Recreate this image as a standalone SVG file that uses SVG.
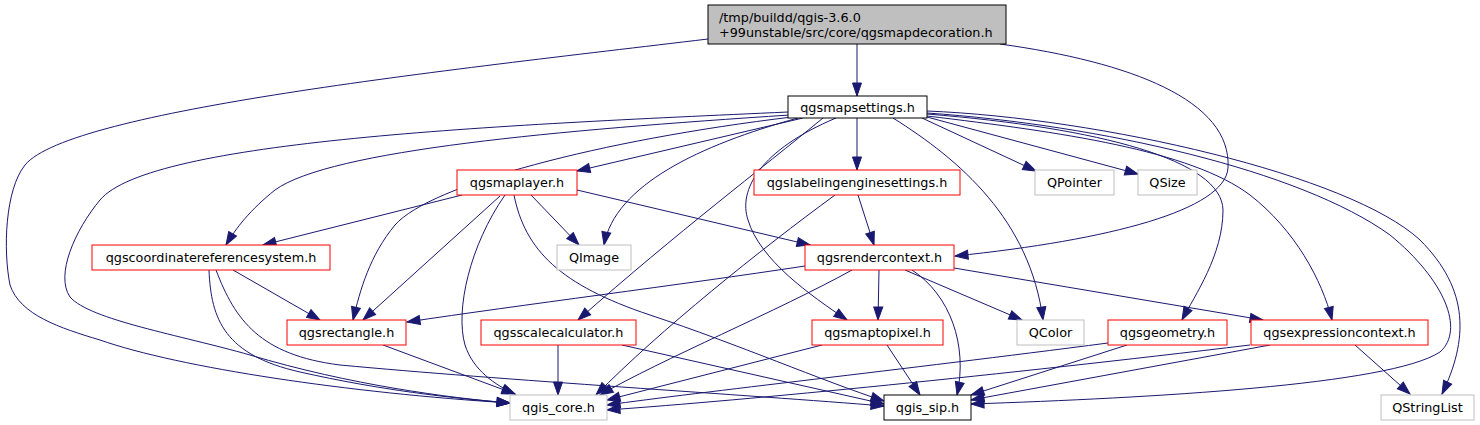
<svg xmlns="http://www.w3.org/2000/svg" width="1480" height="425" viewBox="0 0 1480 425">
<style>
text{font-family:"DejaVu Sans","Liberation Sans",sans-serif;font-size:12.8px;fill:#000}
.n text{text-anchor:middle}
.n rect{fill:#fff;stroke-width:1}
.red rect{stroke:#ff0000}
.grey rect{stroke:#bfbfbf}
.blk rect{stroke:#000}
#edges path{fill:none;stroke:#191970;stroke-width:1;marker-end:url(#ah)}
</style>
<defs>
<marker id="ah" markerUnits="userSpaceOnUse" markerWidth="14" markerHeight="10" refX="13" refY="5" orient="auto" overflow="visible">
<path d="M0,0.5L13,5L0,9.5z" fill="#191970" stroke="#191970" stroke-width="1"/>
</marker>
</defs>
<rect width="1480" height="425" fill="#fff"/>
<g id="edges">
<path d="M857,44 L857,96"/>
<path d="M708,39 C450,70 70,110 25,165 C5,190 3,250 10,285 C20,315 60,328 100,340 C180,368 350,393 510,403"/>
<path d="M1000,44 C1130,62 1232,100 1228,168 C1225,210 1110,240 955,256"/>
<path d="M803,118 L577,171"/>
<path d="M798,118 C700,145 615,185 604,245"/>
<path d="M790,115 C560,130 330,150 275,190 C250,210 236,228 226,245"/>
<path d="M792,117 C600,140 430,185 395,225 C370,255 360,290 353,320"/>
<path d="M788,112 C500,125 150,140 100,200 C75,230 55,275 70,297 C90,320 180,335 250,355 C350,385 450,398 510,403"/>
<path d="M857,118 L857,170"/>
<path d="M823,118 C760,170 680,230 578,320"/>
<path d="M836,118 C760,150 738,190 748,220 C760,260 810,295 847,320"/>
<path d="M893,118 C960,160 1030,220 1043,320"/>
<path d="M922,118 L1036,171"/>
<path d="M927,117 L1138,174"/>
<path d="M927,114 C1100,128 1222,160 1223,210 C1223,255 1195,295 1182,320"/>
<path d="M927,116 C1060,132 1190,150 1250,195 C1295,230 1322,280 1332,320"/>
<path d="M927,113 C1100,125 1300,170 1390,235 C1445,280 1465,330 1440,352 C1390,385 1150,398 971,404"/>
<path d="M927,111 C1100,118 1350,175 1420,240 C1470,290 1468,340 1442,394"/>
<path d="M462,195 L263,245"/>
<path d="M531,195 L579,245"/>
<path d="M500,196 L363,320"/>
<path d="M505,195 C470,245 455,310 465,345 C473,370 495,385 515,394"/>
<path d="M514,195 C525,250 560,285 650,315 C740,345 820,380 884,401"/>
<path d="M577,190 L810,245"/>
<path d="M858,195 L874,245"/>
<path d="M835,195 C760,250 660,330 596,395"/>
<path d="M233,270 L320,320"/>
<path d="M209,270 C211,320 225,355 300,372 C380,390 450,398 510,403"/>
<path d="M216,270 C235,320 260,355 340,365 C500,380 750,395 884,406"/>
<path d="M805,266 C680,285 520,305 407,322"/>
<path d="M852,270 C780,310 660,360 600,395"/>
<path d="M879,270 L878,320"/>
<path d="M905,270 L1022,320"/>
<path d="M912,270 C950,295 968,345 957,395"/>
<path d="M954,268 L1263,320"/>
<path d="M383,345 L515,394"/>
<path d="M558,345 L558,395"/>
<path d="M622,345 L884,404"/>
<path d="M822,345 L607,400"/>
<path d="M887,345 L920,395"/>
<path d="M1108,343 C900,370 700,392 607,405"/>
<path d="M1127,345 L971,395"/>
<path d="M1250,345 C1000,375 750,400 607,410"/>
<path d="M1270,345 L971,400"/>
<path d="M1355,345 L1410,394"/>
</g>
<g id="root" class="n"><rect x="708" y="5" width="298" height="39" style="fill:#bfbfbf;stroke:#000"/><text x="719" y="22" style="text-anchor:start">/tmp/buildd/qgis-3.6.0</text><text x="719" y="37" style="text-anchor:start">+99unstable/src/core/qgsmapdecoration.h</text></g>
<g id="qgsmapsettings" class="n blk"><rect x="788" y="96" width="139" height="22"/><text x="857.5" y="111.5">qgsmapsettings.h</text></g>
<g id="qgsmaplayer" class="n red"><rect x="457" y="170" width="120" height="25"/><text x="517" y="187">qgsmaplayer.h</text></g>
<g id="qgslabelingenginesettings" class="n red"><rect x="754" y="170" width="206" height="25"/><text x="857" y="187">qgslabelingenginesettings.h</text></g>
<g id="QPointer" class="n grey"><rect x="1035" y="170" width="79" height="25"/><text x="1074.5" y="187">QPointer</text></g>
<g id="QSize" class="n grey"><rect x="1138" y="170" width="59" height="25"/><text x="1167.5" y="187">QSize</text></g>
<g id="qgscoordinatereferencesystem" class="n red"><rect x="92" y="245" width="238" height="25"/><text x="211" y="262">qgscoordinatereferencesystem.h</text></g>
<g id="QImage" class="n grey"><rect x="557" y="245" width="74" height="25"/><text x="594" y="262">QImage</text></g>
<g id="qgsrendercontext" class="n red"><rect x="805" y="245" width="149" height="25"/><text x="879.5" y="262">qgsrendercontext.h</text></g>
<g id="qgsrectangle" class="n red"><rect x="287" y="320" width="119" height="25"/><text x="346.5" y="337">qgsrectangle.h</text></g>
<g id="qgsscalecalculator" class="n red"><rect x="481" y="320" width="155" height="25"/><text x="558.5" y="337">qgsscalecalculator.h</text></g>
<g id="qgsmaptopixel" class="n red"><rect x="812" y="320" width="131" height="25"/><text x="877.5" y="337">qgsmaptopixel.h</text></g>
<g id="QColor" class="n grey"><rect x="1017" y="320" width="67" height="25"/><text x="1050.5" y="337">QColor</text></g>
<g id="qgsgeometry" class="n red"><rect x="1108" y="320" width="119" height="25"/><text x="1167.5" y="337">qgsgeometry.h</text></g>
<g id="qgsexpressioncontext" class="n red"><rect x="1251" y="320" width="177" height="25"/><text x="1339.5" y="337">qgsexpressioncontext.h</text></g>
<g id="qgis_core" class="n grey"><rect x="510" y="395" width="97" height="25"/><text x="558.5" y="412">qgis_core.h</text></g>
<g id="qgis_sip" class="n blk"><rect x="884" y="395" width="87" height="25"/><text x="927.5" y="412">qgis_sip.h</text></g>
<g id="QStringList" class="n grey"><rect x="1381" y="395" width="93" height="25"/><text x="1427.5" y="412">QStringList</text></g>
</svg>
